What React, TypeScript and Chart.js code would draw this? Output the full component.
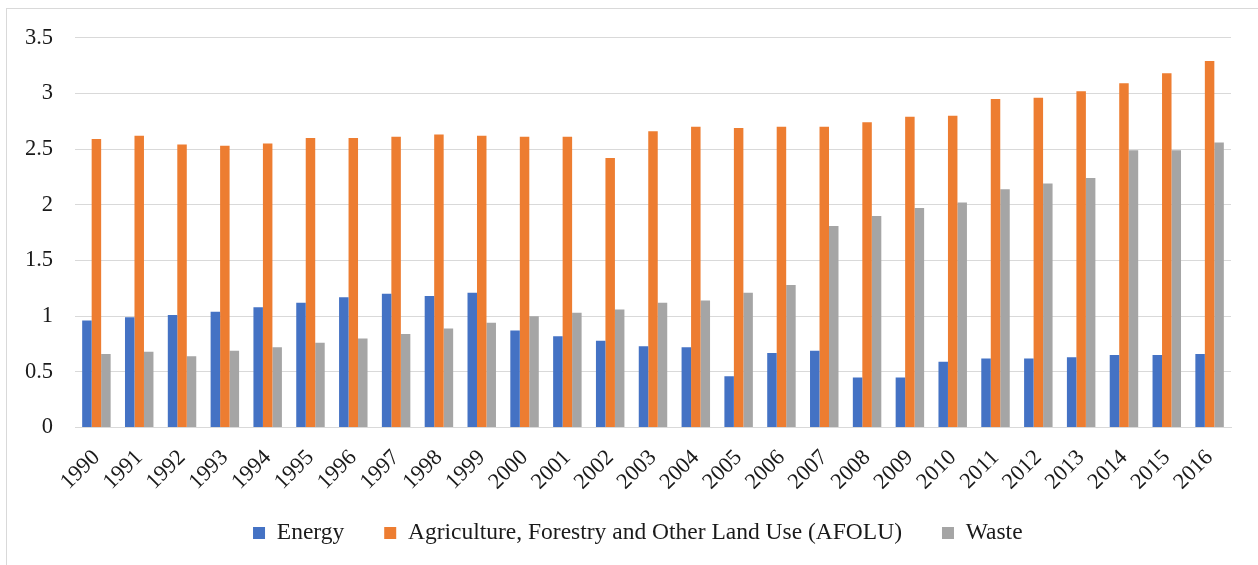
import { useEffect, useRef } from "react";
import { Chart, registerables } from "chart.js";

Chart.register(...registerables);

const years = [
  "1990", "1991", "1992", "1993", "1994", "1995", "1996", "1997", "1998", "1999",
  "2000", "2001", "2002", "2003", "2004", "2005", "2006", "2007", "2008", "2009",
  "2010", "2011", "2012", "2013", "2014", "2015", "2016",
];

const energy = [
  0.96, 0.99, 1.01, 1.04, 1.08, 1.12, 1.17, 1.2, 1.18, 1.21,
  0.87, 0.82, 0.78, 0.73, 0.72, 0.46, 0.67, 0.69, 0.45, 0.45,
  0.59, 0.62, 0.62, 0.63, 0.65, 0.65, 0.66,
];

const afolu = [
  2.59, 2.62, 2.54, 2.53, 2.55, 2.6, 2.6, 2.61, 2.63, 2.62,
  2.61, 2.61, 2.42, 2.66, 2.7, 2.69, 2.7, 2.7, 2.74, 2.79,
  2.8, 2.95, 2.96, 3.02, 3.09, 3.18, 3.29,
];

const waste = [
  0.66, 0.68, 0.64, 0.69, 0.72, 0.76, 0.8, 0.84, 0.89, 0.94,
  1.0, 1.03, 1.06, 1.12, 1.14, 1.21, 1.28, 1.81, 1.9, 1.97,
  2.02, 2.14, 2.19, 2.24, 2.49, 2.49, 2.56,
];

const seriesNames = ["Energy", "Agriculture, Forestry and Other Land Use (AFOLU)", "Waste"];
const seriesColors = ["#4472C4", "#ED7D31", "#A5A5A5"];

const FONT = "'Liberation Serif', 'Times New Roman', serif";
const TEXT = "#1a1a1a";

const layoutTweak = {
  id: "layoutTweak",
  afterLayout(chart: any) {
    const l = chart.legend;
    if (l) {
      l.left += 22.3;
      l.right += 22.3;
    }
    const x = chart.scales.x;
    if (x) {
      x.bottom += 25;
      x.height += 25;
    }
  },
};

export default function App() {
  const ref = useRef<HTMLCanvasElement>(null);

  useEffect(() => {
    const tickFont = { family: FONT, size: 22.5 };
    const legendFont = { family: FONT, size: 23.5 };
    const chart = new Chart(ref.current!, {
      type: "bar",
      data: {
        labels: years,
        datasets: [energy, afolu, waste].map((d, i) => ({
          label: seriesNames[i],
          data: d,
          backgroundColor: seriesColors[i],
          borderWidth: 0,
          categoryPercentage: 0.665,
          barPercentage: 1,
        })),
      },
      options: {
        animation: false,
        responsive: false,
        maintainAspectRatio: false,
        layout: { padding: { left: 0, right: 27, top: 37.7, bottom: 10.25 } },
        plugins: {
          legend: {
            position: "bottom",
            labels: { boxWidth: 12, boxHeight: 12, padding: 40, font: legendFont, color: TEXT },
          },
          tooltip: { enabled: false },
        },
        scales: {
          x: {
            grid: { display: false },
            border: { color: "#d9d9d9", width: 1 },
            ticks: { minRotation: 45, maxRotation: 45, font: tickFont, color: TEXT, padding: 9, autoSkip: false },
            afterFit: (s: any) => {
              s.height = 53.75;
            },
          },
          y: {
            min: 0,
            max: 3.5,
            ticks: {
              stepSize: 0.5,
              padding: 22,
              font: tickFont,
              color: TEXT,
              callback: (v: any) => String(+v),
            },
            grid: { color: "#d9d9d9", lineWidth: 1, drawTicks: false },
            border: { display: false },
            afterFit: (s: any) => {
              s.width = 75;
            },
          },
        },
      },
      plugins: [layoutTweak],
    });
    return () => chart.destroy();
  }, []);

  return (
    <div style={{ position: "fixed", left: 0, top: 0, width: 1258, height: 565, background: "#fff", overflow: "hidden" }}>
      <div
        style={{
          position: "absolute",
          left: 6,
          top: 8,
          width: 1300,
          height: 600,
          border: "1px solid #d9d9d9",
        }}
      />
      <canvas ref={ref} width={1258} height={565} style={{ position: "absolute", left: 0, top: 0 }} />
    </div>
  );
}
